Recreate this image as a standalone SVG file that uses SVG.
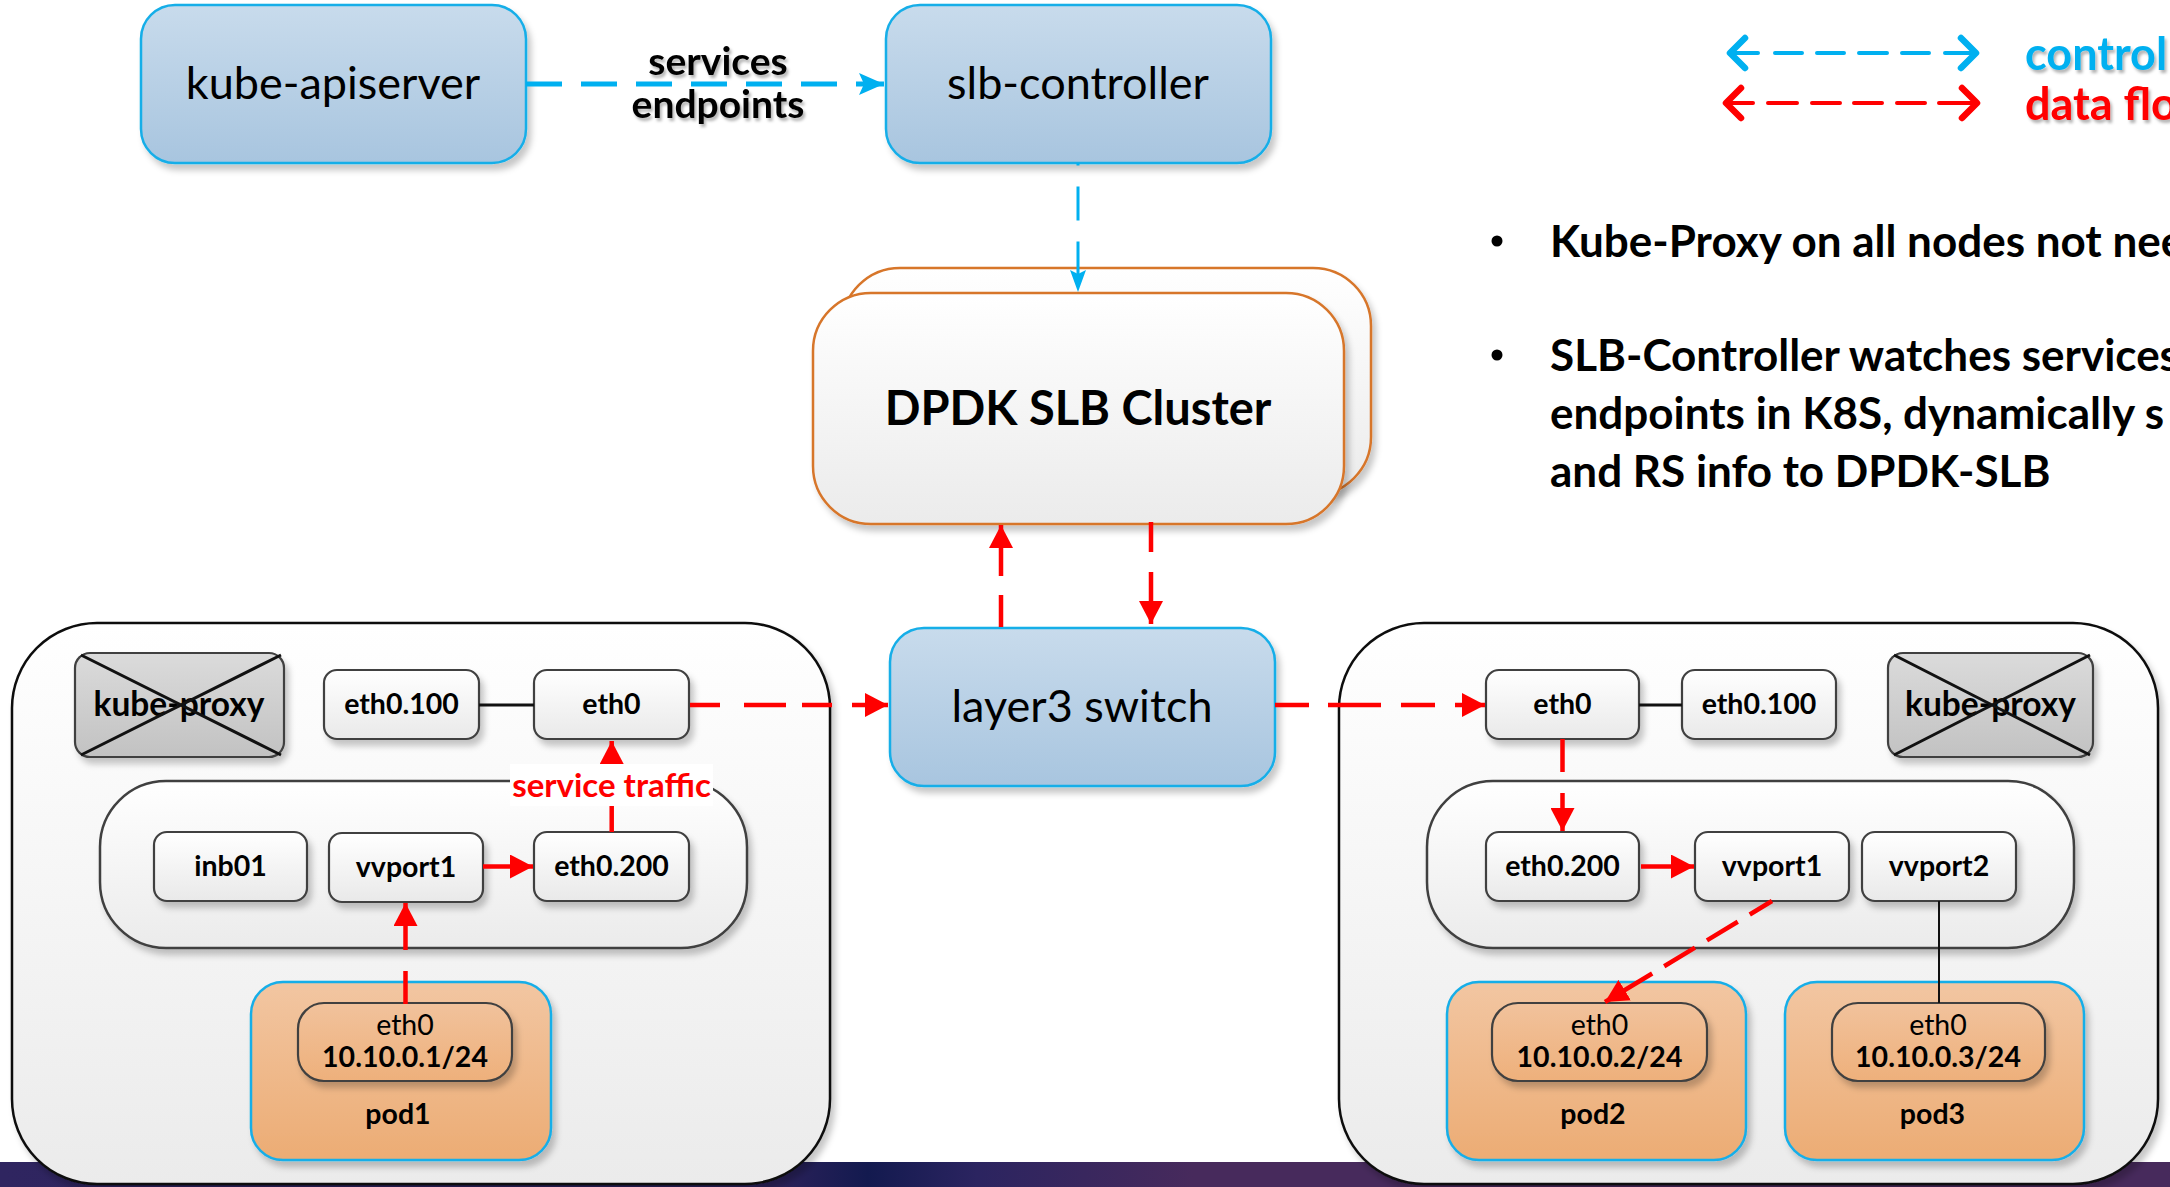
<svg xmlns="http://www.w3.org/2000/svg" width="2170" height="1187" viewBox="0 0 2170 1187">
<defs>
<linearGradient id="gBlue" x1="0" y1="0" x2="0" y2="1"><stop offset="0" stop-color="#c8dbec"/><stop offset="1" stop-color="#a8c5df"/></linearGradient>
<linearGradient id="gWhite" x1="0" y1="0" x2="0" y2="1"><stop offset="0" stop-color="#ffffff"/><stop offset="1" stop-color="#e9e9e9"/></linearGradient>
<linearGradient id="gHost" x1="0" y1="0" x2="0" y2="1"><stop offset="0" stop-color="#ffffff"/><stop offset="1" stop-color="#ebebeb"/></linearGradient>
<linearGradient id="gGray" x1="0" y1="0" x2="0" y2="1"><stop offset="0" stop-color="#dbdbdb"/><stop offset="1" stop-color="#c2c2c2"/></linearGradient>
<linearGradient id="gPod" x1="0" y1="0" x2="0" y2="1"><stop offset="0" stop-color="#f2c6a2"/><stop offset="1" stop-color="#ecac74"/></linearGradient>
<linearGradient id="gPodIn" x1="0" y1="0" x2="0" y2="1"><stop offset="0" stop-color="#f1c29c"/><stop offset="1" stop-color="#eeb07b"/></linearGradient>
<linearGradient id="gBand" x1="0" y1="0" x2="1" y2="0">
<stop offset="0" stop-color="#2f2560"/><stop offset="0.36" stop-color="#2a2159"/><stop offset="0.40" stop-color="#131a4f"/><stop offset="0.45" stop-color="#2b2460"/><stop offset="0.55" stop-color="#472a5c"/><stop offset="1" stop-color="#472a5c"/>
</linearGradient>
<filter id="sh" x="-10%" y="-10%" width="130%" height="140%"><feDropShadow dx="4" dy="6" stdDeviation="3" flood-color="#000" flood-opacity="0.22"/></filter>
<filter id="tsh" x="-10%" y="-20%" width="130%" height="150%"><feDropShadow dx="2" dy="3" stdDeviation="1.5" flood-color="#000" flood-opacity="0.3"/></filter>
<marker id="hRed" markerUnits="userSpaceOnUse" markerWidth="24" markerHeight="24" refX="23" refY="12" orient="auto"><path d="M0,0 L23,12 L0,24 Z" fill="#ff0000"/></marker>
<marker id="hCyanBig" markerUnits="userSpaceOnUse" markerWidth="26" markerHeight="24" refX="25" refY="11" orient="auto"><path d="M0,0 L25,11 L0,22 L5,11 Z" fill="#00b0f0"/></marker>
<marker id="hCyan" markerUnits="userSpaceOnUse" markerWidth="22" markerHeight="18" refX="22" refY="8" orient="auto"><path d="M0,0 L22,8 L0,16 L4,8 Z" fill="#00b0f0"/></marker>
</defs>
<style>
.blue{fill:url(#gBlue);stroke:#17aee8;stroke-width:2.5;filter:url(#sh)}
.dpdk{fill:url(#gHost);stroke:#d7762b;stroke-width:2.5;filter:url(#sh)}
.host{fill:url(#gHost);stroke:#111;stroke-width:2.5;filter:url(#sh)}
.cont{fill:url(#gHost);stroke:#404040;stroke-width:2.5;filter:url(#sh)}
.sm{fill:url(#gWhite);stroke:#404040;stroke-width:2.2;filter:url(#sh)}
.kp{fill:url(#gGray);stroke:#404040;stroke-width:2.2;filter:url(#sh)}
.pod{fill:url(#gPod);stroke:#17aee8;stroke-width:2.5;filter:url(#sh)}
.podin{fill:url(#gPodIn);stroke:#404040;stroke-width:2.2;filter:url(#sh)}
.t{font-family:Lato,"Liberation Sans",sans-serif;fill:#000;text-anchor:middle}
.big{font-size:45px}
.lb{font-size:28.5px;font-weight:bold}
.lr{font-size:28.5px}
.red{stroke:#ff0000;stroke-width:4.5;fill:none}
.cy{stroke:#00b0f0;fill:none}
.bul{font-family:Lato,"Liberation Sans",sans-serif;font-size:44px;font-weight:bold;fill:#000}
.leg{font-family:Lato,"Liberation Sans",sans-serif;font-size:45px;font-weight:bold}
</style>
<rect x="0" y="1162" width="2170" height="25" fill="url(#gBand)"/>

<g id="kube-apiserver"><rect class="blue" x="141" y="5" width="385" height="158" rx="34"/><text class="t big" x="333" y="99">kube-apiserver</text></g>
<g id="slb-controller"><rect class="blue" x="886" y="5" width="385" height="158" rx="34"/><text class="t big" x="1078" y="99">slb-controller</text></g>
<g id="dpdk-slb-cluster"><rect class="dpdk" x="842" y="268" width="529" height="227" rx="58"/><rect class="dpdk" x="813" y="293" width="531" height="231" rx="58"/><text class="t" x="1078" y="425" font-size="47" font-weight="bold">DPDK SLB Cluster</text></g>
<g id="layer3-switch"><rect class="blue" x="890" y="628" width="385" height="158" rx="34"/><text class="t big" x="1082" y="722">layer3 switch</text></g>

<g id="host-left">
<rect class="host" x="12" y="623" width="818" height="561" rx="85"/>
<g id="kube-proxy-left"><rect class="kp" x="75" y="653" width="209" height="104" rx="15"/><text class="t" x="179" y="716" font-size="33.5" font-weight="bold">kube-proxy</text><path d="M81,655 L281,755 M281,655 L81,755" stroke="#111" stroke-width="3"/></g>
<g id="eth0.100-left"><rect class="sm" x="324" y="670" width="155" height="69" rx="13"/><text class="t lb" x="401.5" y="714">eth0.100</text></g>
<g id="eth0-left"><rect class="sm" x="534" y="670" width="155" height="69" rx="13"/><text class="t lb" x="611.5" y="714">eth0</text></g>
<rect class="cont" x="100" y="781" width="647" height="167" rx="66"/>
<g id="inb01-left"><rect class="sm" x="154" y="832" width="153" height="69" rx="13"/><text class="t lb" x="230.5" y="876">inb01</text></g>
<g id="vvport1-left"><rect class="sm" x="329" y="833" width="154" height="69" rx="13"/><text class="t lb" x="406" y="877">vvport1</text></g>
<g id="eth0.200-left"><rect class="sm" x="534" y="832" width="155" height="69" rx="13"/><text class="t lb" x="611.5" y="876">eth0.200</text></g>
<g id="pod1"><rect class="pod" x="251" y="982" width="300" height="178" rx="32"/><rect class="podin" x="298" y="1003" width="214" height="78" rx="26"/><text class="t lr" x="405" y="1035">eth0</text><text class="t lb" x="405" y="1067">10.10.0.1/24</text><text class="t lb" x="398" y="1124">pod1</text></g>
</g>

<g id="host-right">
<rect class="host" x="1339" y="623" width="819" height="561" rx="85"/>
<g id="eth0-right"><rect class="sm" x="1486" y="670" width="153" height="69" rx="13"/><text class="t lb" x="1562.5" y="714">eth0</text></g>
<g id="eth0.100-right"><rect class="sm" x="1682" y="670" width="154" height="69" rx="13"/><text class="t lb" x="1759" y="714">eth0.100</text></g>
<g id="kube-proxy-right"><rect class="kp" x="1888" y="653" width="205" height="104" rx="15"/><text class="t" x="1990.5" y="716" font-size="33.5" font-weight="bold">kube-proxy</text><path d="M1894,655 L2090,755 M2090,655 L1894,755" stroke="#111" stroke-width="3"/></g>
<rect class="cont" x="1427" y="781" width="647" height="167" rx="66"/>
<g id="eth0.200-right"><rect class="sm" x="1486" y="832" width="153" height="69" rx="13"/><text class="t lb" x="1562.5" y="876">eth0.200</text></g>
<g id="vvport1-right"><rect class="sm" x="1695" y="832" width="154" height="69" rx="13"/><text class="t lb" x="1772" y="876">vvport1</text></g>
<g id="vvport2-right"><rect class="sm" x="1862" y="832" width="154" height="69" rx="13"/><text class="t lb" x="1939" y="876">vvport2</text></g>
<g id="pod2"><rect class="pod" x="1447" y="982" width="299" height="178" rx="32"/><rect class="podin" x="1492" y="1003" width="215" height="78" rx="26"/><text class="t lr" x="1599.5" y="1035">eth0</text><text class="t lb" x="1599.5" y="1067">10.10.0.2/24</text><text class="t lb" x="1593" y="1124">pod2</text></g>
<g id="pod3"><rect class="pod" x="1785" y="982" width="299" height="178" rx="32"/><rect class="podin" x="1832" y="1003" width="213" height="78" rx="26"/><text class="t lr" x="1938" y="1035">eth0</text><text class="t lb" x="1938" y="1067">10.10.0.3/24</text><text class="t lb" x="1932.5" y="1124">pod3</text></g>
</g>

<g id="connectors">
<path class="cy" d="M526,84 H884" stroke-width="5" stroke-dasharray="36 19" marker-end="url(#hCyanBig)"/>
<g filter="url(#tsh)"><text class="t" x="718" y="75" font-size="39" font-weight="bold">services</text><text class="t" x="718" y="118" font-size="39" font-weight="bold">endpoints</text></g>
<path class="cy" d="M1078,163 V292" stroke-width="3" stroke-dasharray="34 21" stroke-dashoffset="31.5" marker-end="url(#hCyan)"/>
<path class="red" d="M1001,627 V525" stroke-dasharray="32 19 80" marker-end="url(#hRed)"/>
<path class="red" d="M1151,522 V624" stroke-dasharray="30 20 90" marker-end="url(#hRed)"/>
<path d="M479,705 H534" stroke="#111" stroke-width="3"/>
<path d="M1639,705 H1682" stroke="#111" stroke-width="3"/>
<path class="red" d="M690,705 H888" stroke-dasharray="30 24 42 16 30 20 100" marker-end="url(#hRed)"/>
<path class="red" d="M1275,705 H1485" stroke-dasharray="34 19 53 20 34 20 100" marker-end="url(#hRed)"/>
<path class="red" d="M405.5,1004 V903" stroke-dasharray="33 21 100" marker-end="url(#hRed)"/>
<path class="red" d="M483,866.5 H533" marker-end="url(#hRed)"/>
<path class="red" d="M611.7,832 V741" marker-end="url(#hRed)"/>
<rect x="510" y="764" width="203" height="42" fill="#ffffff"/>
<text class="t" x="611.5" y="797" font-size="33" font-weight="bold" style="fill:#ff0000">service traffic</text>
<path class="red" d="M1562.5,739 V831" stroke-dasharray="33 21 100" marker-end="url(#hRed)"/>
<path class="red" d="M1641,866.5 H1694" marker-end="url(#hRed)"/>
<path class="red" d="M1772,901 L1605,1002" stroke-dasharray="26 14 36 14 36 14 100" marker-end="url(#hRed)"/>
<path d="M1939,901 V1003" stroke="#111" stroke-width="2"/>
</g>

<g id="legend">
<g stroke="#00b0f0" fill="none" stroke-linecap="round" stroke-linejoin="round">
<path d="M1745,38 L1730,53 L1745,68" stroke-width="6.5"/>
<path d="M1961,38 L1976,53 L1961,68" stroke-width="6.5"/>
<path d="M1730,53 H1758 M1775,53 H1802 M1817,53 H1844 M1859,53 H1887 M1902,53 H1929 M1945,53 H1975" stroke-width="4"/>
</g>
<g stroke="#ff0000" fill="none" stroke-linecap="round" stroke-linejoin="round">
<path d="M1741,88 L1726,103 L1741,118" stroke-width="6.5"/>
<path d="M1962,88 L1977,103 L1962,118" stroke-width="6.5"/>
<path d="M1726,103 H1753 M1768,103 H1797 M1812,103 H1840 M1854,103 H1882 M1897,103 H1925 M1939,103 H1976" stroke-width="4"/>
</g>
<g filter="url(#tsh)">
<text class="leg" x="2025" y="70" fill="#00b0f0">control</text>
<text class="leg" x="2025" y="120" fill="#ff0000">data flo</text>
</g>
</g>

<g id="notes">
<circle cx="1497" cy="241" r="5.5" fill="#000"/>
<circle cx="1497" cy="355" r="5.5" fill="#000"/>
<text class="bul" x="1550" y="257">Kube-Proxy on all nodes not nee</text>
<text class="bul" x="1550" y="371">SLB-Controller watches services</text>
<text class="bul" x="1550" y="429">endpoints in K8S, dynamically s</text>
<text class="bul" x="1550" y="487">and RS info to DPDK-SLB</text>
</g>
</svg>
